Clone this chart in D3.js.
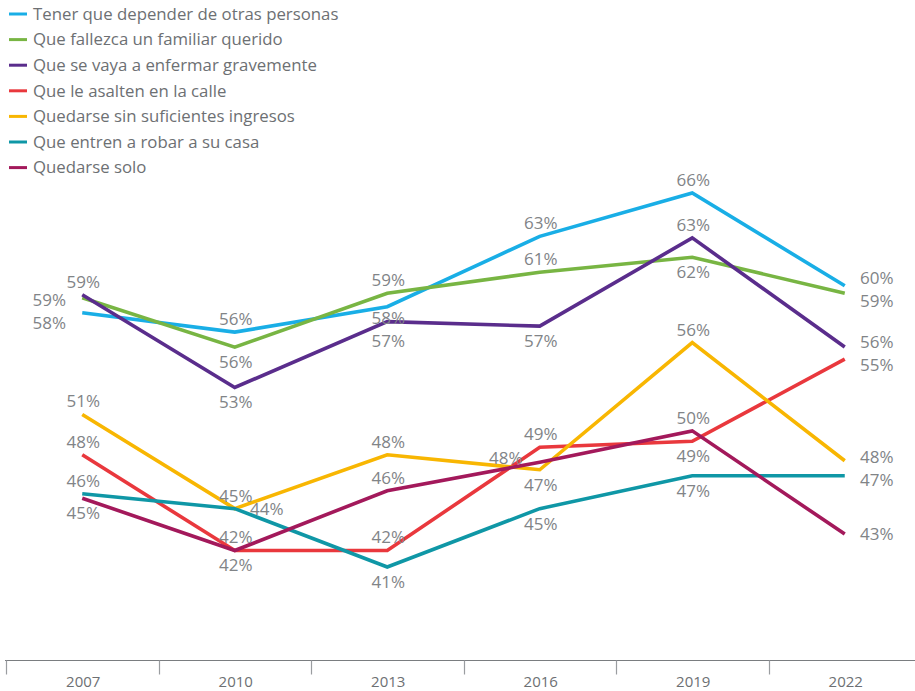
<!DOCTYPE html>
<html>
<head>
<meta charset="utf-8">
<script src="https://cdn.jsdelivr.net/npm/d3@7"></script>
<style>
  body { margin: 0; background: #fff; }
  text { font-family: "Open Sans", "Noto Sans", sans-serif; }
</style>
</head>
<body>
<div id="chart"></div>
<script>
var years = ["2007", "2010", "2013", "2016", "2019", "2022"];

var seriesNames = [
  "Tener que depender de otras personas",
  "Que fallezca un familiar querido",
  "Que se vaya a enfermar gravemente",
  "Que le asalten en la calle",
  "Quedarse sin suficientes ingresos",
  "Que entren a robar a su casa",
  "Quedarse solo"
];

var colors = ["#19aee6", "#78b543", "#5a2d8c", "#e9383d", "#f8b602", "#0f97a6", "#a3195b"];

// values as plotted (labels show the rounded figures)
var dependerValues = [58.0, 56.7, 58.4, 63.1, 66.0, 59.8];
var fallezcaValues = [59.0, 55.7, 59.3, 60.7, 61.7, 59.3];
var enfermarValues = [59.2, 53.0, 57.4, 57.1, 63.0, 55.7];
var asaltenValues  = [48.5, 42.1, 42.1, 49.0, 49.4, 54.9];
var ingresosValues = [51.2, 44.9, 48.5, 47.5, 56.0, 48.1];
var robarValues    = [45.9, 44.9, 41.0, 44.9, 47.1, 47.1];
var soloValues     = [45.6, 42.1, 46.1, 48.0, 50.1, 43.2];

var dependerLabels = [58, 56, 58, 63, 66, 60];
var fallezcaLabels = [59, 56, 59, 61, 62, 59];
var enfermarLabels = [59, 53, 57, 57, 63, 56];
var asaltenLabels  = [48, 42, 42, 49, 49, 55];
var ingresosLabels = [51, 45, 48, 47, 56, 48];
var robarLabels    = [46, 44, 41, 45, 47, 47];
var soloLabels     = [45, 42, 46, 48, 50, 43];

// where each label sits relative to its point: a above, b below, l left, lu left-up, r right
var dependerPlace = ["l", "a", "b", "a", "a", "r"];
var fallezcaPlace = ["l", "b", "a", "a", "b", "r"];
var enfermarPlace = ["a", "b", "b", "b", "a", "r"];
var asaltenPlace  = ["a", "b", "a", "a", "b", "r"];
var ingresosPlace = ["a", "a", "a", "b", "a", "r"];
var robarPlace    = ["a", "r", "b", "b", "b", "r"];
var soloPlace     = ["b", "a", "a", "lu", "a", "r"];

var allValues = [dependerValues, fallezcaValues, enfermarValues, asaltenValues, ingresosValues, robarValues, soloValues];
var allLabels = [dependerLabels, fallezcaLabels, enfermarLabels, asaltenLabels, ingresosLabels, robarLabels, soloLabels];
var allPlace = [dependerPlace, fallezcaPlace, enfermarPlace, asaltenPlace, ingresosPlace, robarPlace, soloPlace];

var w = 915,
    h = 691;

var svg = d3.select("#chart").append("svg")
            .attr("width", w)
            .attr("height", h);

var x = d3.scaleBand().domain(years).range([6, 921]);
var y = d3.scaleLinear().domain([41, 66]).range([567, 193]);

var series = seriesNames.map(function(name, i) {
  return {
    name: name,
    color: colors[i],
    points: years.map(function(yr, j) {
      return { year: yr, value: allValues[i][j], label: allLabels[i][j], place: allPlace[i][j] };
    })
  };
});

// x axis
var axisG = svg.append("g").attr("transform", "translate(0,660.5)");
axisG.append("line")
     .attr("x1", 5).attr("x2", w)
     .attr("y1", 0).attr("y2", 0)
     .style("stroke", "#7a7d80")
     .style("stroke-width", 1.2);
axisG.selectAll(".tick")
     .data(years)
     .enter()
     .append("line")
     .attr("x1", function(d) { return Math.round(x(d)) + 0.5; })
     .attr("x2", function(d) { return Math.round(x(d)) + 0.5; })
     .attr("y1", 0).attr("y2", 14)
     .style("stroke", "#9a9da0")
     .style("stroke-width", 1.2);
axisG.selectAll(".yr")
     .data(years)
     .enter()
     .append("text")
     .attr("x", function(d) { return x(d) + x.bandwidth() / 2 + 1; })
     .attr("y", 21)
     .attr("dy", "0.35em")
     .attr("text-anchor", "middle")
     .style("font-size", "15px")
     .style("fill", "#6d7073")
     .text(function(d) { return d; });

// lines
var line = d3.line()
             .x(function(d) { return x(d.year) + x.bandwidth() / 2; })
             .y(function(d) { return y(d.value); });

svg.selectAll(".series")
   .data(series)
   .enter()
   .append("path")
   .attr("d", function(d) { return line(d.points); })
   .style("fill", "none")
   .style("stroke", function(d) { return d.color; })
   .style("stroke-width", 3.6);

// labels
var labels = [];
series.forEach(function(s) {
  s.points.forEach(function(p) {
    var px = x(p.year) + x.bandwidth() / 2,
        py = y(p.value);
    var lx = px + 1, ly = py;
    if (p.place === "a") { ly = py - 13; }
    if (p.place === "b") { ly = py + 15; }
    if (p.place === "l") { lx = px - 33; ly = py + 6; }
    if (p.place === "lu") { lx = px - 34; ly = py - 4; }
    if (p.place === "r") { lx = px + 32; }
    labels.push({ x: lx, y: ly, text: p.label + "%", group: p.year + "|" + lx });
  });
});

// labels stacked in the same column are pushed apart so they do not overlap
var minGap = 23;
var groups = d3.group(labels, function(d) { return d.group; });
groups.forEach(function(col) {
  col.sort(function(a, b) { return a.y - b.y; });
  for (var k = 0; k < 6; k++) {
    for (var i = 1; i < col.length; i++) {
      var gap = col[i].y - col[i - 1].y;
      if (gap < minGap) {
        var push = (minGap - gap) / 2;
        col[i].y += push;
        col[i - 1].y -= push;
      }
    }
  }
});

svg.selectAll(".lbl")
   .data(labels)
   .enter()
   .append("text")
   .attr("x", function(d) { return d.x; })
   .attr("y", function(d) { return d.y; })
   .attr("dy", "0.35em")
   .attr("text-anchor", "middle")
   .style("font-size", "17px")
   .style("fill", "#818487")
   .text(function(d) { return d.text; });

// legend
var legend = svg.selectAll(".legend")
                .data(series)
                .enter()
                .append("g")
                .attr("transform", function(d, i) { return "translate(0," + (14 + i * 25.6) + ")"; });
legend.append("line")
      .attr("x1", 9).attr("x2", 27)
      .attr("y1", 0).attr("y2", 0)
      .style("stroke", function(d) { return d.color; })
      .style("stroke-width", 3);
legend.append("text")
      .attr("x", 33)
      .attr("y", 0)
      .attr("dy", "0.35em")
      .style("font-size", "16.8px")
      .style("fill", "#6d7073")
      .text(function(d) { return d.name; });
</script>
</body>
</html>
